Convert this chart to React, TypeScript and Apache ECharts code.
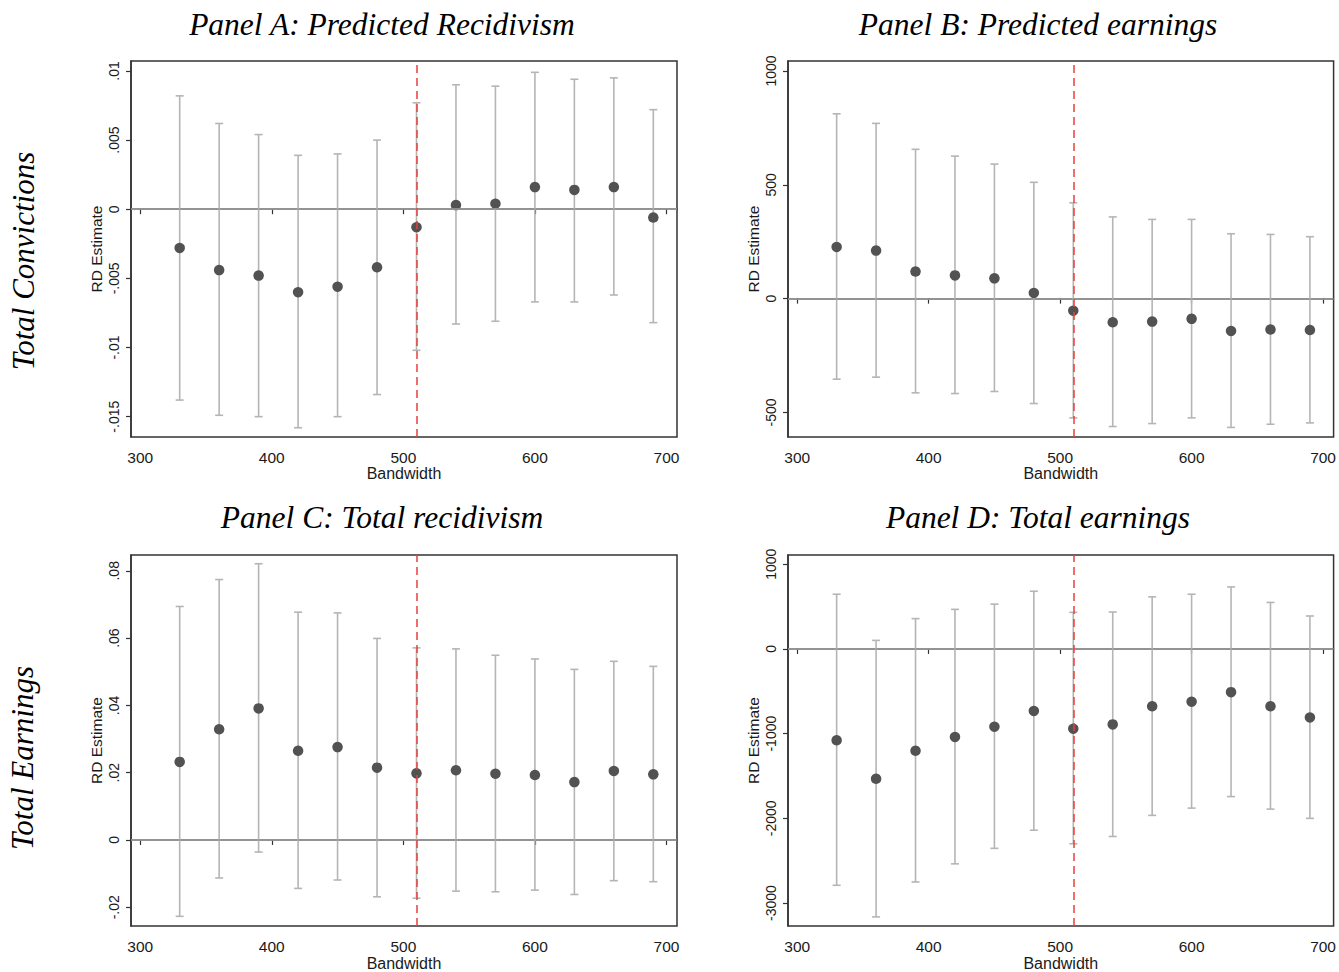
import React, { useEffect, useRef } from "react";
import * as echarts from "echarts";

// ---- data ----
const bandwidths = [330, 360, 390, 420, 450, 480, 510, 540, 570, 600, 630, 660, 690];
const cutoff = 510;

const panelAEst = [-0.0028, -0.0044, -0.0048, -0.006, -0.0056, -0.0042, -0.0013, 0.0003, 0.0004, 0.0016, 0.0014, 0.0016, -0.0006];
const panelALow = [-0.0138, -0.0149, -0.015, -0.0158, -0.015, -0.0134, -0.0102, -0.0083, -0.0081, -0.0067, -0.0067, -0.0062, -0.0082];
const panelAHigh = [0.0082, 0.0062, 0.0054, 0.0039, 0.004, 0.005, 0.0077, 0.009, 0.0089, 0.0099, 0.0094, 0.0095, 0.0072];

const panelBEst = [227, 211, 119, 102, 89, 25, -53, -104, -101, -89, -142, -136, -138];
const panelBLow = [-354, -345, -414, -417, -408, -461, -524, -562, -549, -524, -566, -552, -546];
const panelBHigh = [812, 770, 656, 626, 591, 511, 421, 359, 348, 348, 285, 282, 272];

const panelCEst = [0.0232, 0.0329, 0.0391, 0.0265, 0.0276, 0.0215, 0.0198, 0.0207, 0.0197, 0.0193, 0.0172, 0.0205, 0.0195];
const panelCLow = [-0.0227, -0.0113, -0.0036, -0.0144, -0.0119, -0.0169, -0.0173, -0.0152, -0.0154, -0.0149, -0.0162, -0.0121, -0.0124];
const panelCHigh = [0.0694, 0.0774, 0.0821, 0.0677, 0.0675, 0.0599, 0.0571, 0.0568, 0.0549, 0.0538, 0.0507, 0.0531, 0.0516];

const panelDEst = [-1078, -1533, -1202, -1039, -918, -732, -942, -891, -677, -623, -510, -677, -809];
const panelDLow = [-2790, -3163, -2751, -2537, -2354, -2140, -2300, -2214, -1965, -1879, -1743, -1891, -2000];
const panelDHigh = [646, 101, 358, 467, 529, 681, 432, 436, 615, 646, 732, 549, 389];

const xTicks = [300, 400, 500, 600, 700];
const yTicksA = [-0.015, -0.01, -0.005, 0, 0.005, 0.01];
const yTicksB = [-500, 0, 500, 1000];
const yTicksC = [-0.02, 0, 0.02, 0.04, 0.06, 0.08];
const yTicksD = [-3000, -2000, -1000, 0, 1000];

const panelTitles = [
  "Panel A: Predicted Recidivism",
  "Panel B: Predicted earnings",
  "Panel C: Total recidivism",
  "Panel D: Total earnings",
];
const rowLabels = ["Total Convictions", "Total Earnings"];
const xName = "Bandwidth";
const yName = "RD Estimate";

// ---- layout / style ----
const SANS = "'Liberation Sans', Arial, sans-serif";
const SERIF = "'Liberation Serif', 'Times New Roman', serif";
const INK = "#1a1a1a";
const FRAME = "#333333";
const CI_COLOR = "#b5b5b5";
const DOT_COLOR = "#525252";
const ZERO_COLOR = "#a3a3a3";
const RED = "#e8403a";

const grids = [
  { left: 131, top: 61, width: 546, height: 376 },
  { left: 788, top: 61, width: 546, height: 376 },
  { left: 131, top: 555, width: 546, height: 375 },
  { left: 788, top: 555, width: 546, height: 375 },
];
const yRanges = [
  { min: -0.01647, max: 0.01072, ticks: yTicksA },
  { min: -608, max: 1044, ticks: yTicksB },
  { min: -0.0256, max: 0.0847, ticks: yTicksC },
  { min: -3272, max: 1109, ticks: yTicksD },
];
const panels = [
  { est: panelAEst, low: panelALow, high: panelAHigh },
  { est: panelBEst, low: panelBLow, high: panelBHigh },
  { est: panelCEst, low: panelCLow, high: panelCHigh },
  { est: panelDEst, low: panelDLow, high: panelDHigh },
];

function stataFmt(v: number): string {
  const s = String(Math.round(v * 1e6) / 1e6);
  return s.replace(/^(-?)0\./, "$1.");
}

function buildOption() {
  const grid = grids.map((g) => ({
    ...g,
    show: true,
    borderColor: FRAME,
    borderWidth: 1.5,
    backgroundColor: "transparent",
    containLabel: false,
  }));
  const xAxis = grids.map((_, i) => ({
    type: "value",
    gridIndex: i,
    min: 293,
    max: 708,
    name: xName,
    nameLocation: "middle",
    nameGap: 25,
    nameTextStyle: { fontFamily: SANS, fontSize: 16, color: INK },
    axisLine: { show: true, lineStyle: { color: FRAME, width: 1.5 } },
    axisTick: { show: true, length: 5, customValues: xTicks, lineStyle: { color: FRAME, width: 1.2 } },
    axisLabel: { show: true, customValues: xTicks, margin: 12, fontFamily: SANS, fontSize: 15.5, color: INK },
    splitLine: { show: false },
  }));
  const yAxis = grids.map((_, i) => ({
    type: "value",
    gridIndex: i,
    min: yRanges[i].min,
    max: yRanges[i].max,
    name: yName,
    nameLocation: "middle",
    nameGap: 27,
    nameRotate: 90,
    nameTextStyle: { fontFamily: SANS, fontSize: 15.5, color: INK },
    axisLine: { show: true, lineStyle: { color: FRAME, width: 1.5 } },
    axisTick: { show: true, length: 5, customValues: yRanges[i].ticks, lineStyle: { color: FRAME, width: 1.2 } },
    axisLabel: {
      show: true,
      customValues: yRanges[i].ticks,
      rotate: 90,
      margin: 10,
      fontFamily: SANS,
      fontSize: 14,
      color: INK,
      formatter: (v: number) => stataFmt(v),
    },
    splitLine: { show: false },
  }));

  const series: any[] = [];
  panels.forEach((p, i) => {
    // zero reference line
    series.push({
      type: "line",
      xAxisIndex: i,
      yAxisIndex: i,
      data: [],
      silent: true,
      z: 1,
      markLine: {
        silent: true,
        symbol: "none",
        label: { show: false },
        animation: false,
        data: [{ yAxis: 0, lineStyle: { color: ZERO_COLOR, width: 1.5, type: "solid" } }],
      },
    });
    // confidence intervals
    series.push({
      type: "custom",
      xAxisIndex: i,
      yAxisIndex: i,
      z: 2,
      silent: true,
      encode: { x: 0, y: [1, 2] },
      data: bandwidths.map((b, k) => [b, p.low[k], p.high[k]]),
      renderItem: (params: any, api: any) => {
        const x = api.value(0);
        const lo = api.coord([x, api.value(1)]);
        const hi = api.coord([x, api.value(2)]);
        const cap = 4;
        const style = { stroke: CI_COLOR, lineWidth: 1.6 };
        return {
          type: "group",
          children: [
            { type: "line", shape: { x1: lo[0], y1: lo[1], x2: hi[0], y2: hi[1] }, style },
            { type: "line", shape: { x1: lo[0] - cap, y1: lo[1], x2: lo[0] + cap, y2: lo[1] }, style },
            { type: "line", shape: { x1: hi[0] - cap, y1: hi[1], x2: hi[0] + cap, y2: hi[1] }, style },
          ],
        };
      },
    });
    // cutoff line
    series.push({
      type: "line",
      xAxisIndex: i,
      yAxisIndex: i,
      data: [],
      silent: true,
      z: 3,
      markLine: {
        silent: true,
        symbol: "none",
        label: { show: false },
        animation: false,
        data: [{ xAxis: cutoff, lineStyle: { color: RED, width: 1.5, type: [8, 5] } }],
      },
    });
    // point estimates
    series.push({
      type: "scatter",
      xAxisIndex: i,
      yAxisIndex: i,
      z: 4,
      symbol: "circle",
      symbolSize: 10.5,
      itemStyle: { color: DOT_COLOR, opacity: 1 },
      data: bandwidths.map((b, k) => [b, p.est[k]]),
    });
  });

  const titleCenters = [
    [382, 24],
    [1038, 24],
    [382, 517],
    [1038, 517],
  ];
  const graphic: any[] = [];
  panelTitles.forEach((t, i) => {
    graphic.push({
      type: "text",
      x: titleCenters[i][0],
      y: titleCenters[i][1],
      silent: true,
      style: {
        text: t,
        fontFamily: SERIF,
        fontStyle: "italic",
        fontSize: 31.5,
        fill: "#000",
        align: "center",
        verticalAlign: "middle",
      },
    });
  });
  const rowCenters = [
    [23, 261],
    [22, 758],
  ];
  rowLabels.forEach((t, i) => {
    graphic.push({
      type: "text",
      x: rowCenters[i][0],
      y: rowCenters[i][1],
      rotation: Math.PI / 2,
      silent: true,
      style: {
        text: t,
        fontFamily: SERIF,
        fontStyle: "italic",
        fontSize: 31,
        fill: "#000",
        align: "center",
        verticalAlign: "middle",
      },
    });
  });

  return {
    animation: false,
    backgroundColor: "#ffffff",
    grid,
    xAxis,
    yAxis,
    series,
    graphic,
  };
}

export default function App() {
  const ref = useRef<HTMLDivElement>(null);
  useEffect(() => {
    if (!ref.current) return;
    const chart = echarts.init(ref.current, undefined, { renderer: "svg" });
    chart.setOption(buildOption() as any);
    return () => {
      chart.dispose();
    };
  }, []);
  return (
    <div
      ref={ref}
      style={{ position: "absolute", left: 0, top: 0, width: 1339, height: 972, background: "#fff" }}
    />
  );
}
